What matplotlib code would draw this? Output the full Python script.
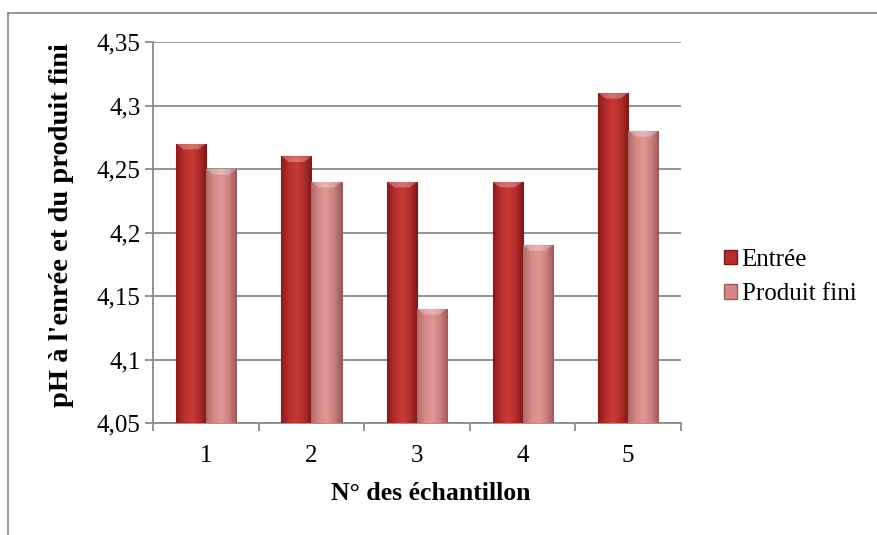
import numpy as np
import matplotlib
matplotlib.use("Agg")
import matplotlib.pyplot as plt
from matplotlib.colors import LinearSegmentedColormap
from matplotlib.lines import Line2D
from matplotlib.patches import Patch

categories = ["1", "2", "3", "4", "5"]
entree = [4.27, 4.26, 4.24, 4.24, 4.31]
produit_fini = [4.25, 4.24, 4.14, 4.19, 4.28]
series_names = ["Entrée", "Produit fini"]
yticks = [4.05, 4.1, 4.15, 4.2, 4.25, 4.3, 4.35]
ytick_labels = ["4,05", "4,1", "4,15", "4,2", "4,25", "4,3", "4,35"]

plt.rcParams['font.family'] = ['Liberation Serif', 'DejaVu Serif']

fig = plt.figure(figsize=(8.77, 5.35), dpi=100)
ax = fig.add_axes([0.1745, 0.2093, 0.602, 0.7122])

x = np.arange(len(categories))
w = 0.285
cmaps = [
    LinearSegmentedColormap.from_list("e", ["#8a1c1c", "#b52e2e", "#c83a36", "#b02c2c", "#7e1818"]),
    LinearSegmentedColormap.from_list("p", ["#b06a6a", "#d58886", "#e09896", "#cc8080", "#9c5a5a"]),
]
edgecols = ["#7a1a1a", "#946060"]
facecols = ["#b52e2e", "#d58886"]

grad = np.linspace(0, 1, 64).reshape(1, -1)
for i, (vals, off) in enumerate([(entree, -w / 2), (produit_fini, w / 2)]):
    bars = ax.bar(x + off, [v - 4.05 for v in vals], w, bottom=4.05,
                  color=facecols[i], edgecolor=edgecols[i], linewidth=0.8, zorder=3)
    for b in bars:
        bx, by = b.get_x(), b.get_y()
        bw, bh = b.get_width(), b.get_height()
        im = ax.imshow(grad, cmap=cmaps[i], aspect='auto',
                       extent=[bx, bx + bw, by, by + bh], zorder=3.5)
        im.set_clip_path(b)
        # top bevel highlight
        ax.fill([bx, bx + bw, bx + bw * 0.75, bx + bw * 0.25],
                [by + bh, by + bh, by + bh - 0.0045, by + bh - 0.0045],
                color="white", alpha=0.28, lw=0, zorder=3.6)

ax.set_xlim(-0.5, len(categories) - 0.5)
ax.set_ylim(4.05, 4.35)
ax.set_yticks(yticks)
ax.set_yticklabels(ytick_labels)
ax.set_xticks(x)
ax.set_xticklabels(categories)
ax.set_xticks(np.arange(-0.5, len(categories), 1), minor=True)
ax.tick_params(axis='x', which='major', length=0, pad=16, labelsize=18)
ax.tick_params(axis='x', which='minor', length=6, direction='out', color='#8c8c8c', width=1.3)
ax.tick_params(axis='y', length=6, direction='out', color='#8c8c8c', width=1.3,
               labelsize=18, pad=3)
ax.grid(axis='y', color='#8c8c8c', linewidth=1.3, zorder=0)
ax.set_axisbelow(True)
for s in ['top', 'right']:
    ax.spines[s].set_visible(False)
for s in ['left', 'bottom']:
    ax.spines[s].set_color('#8c8c8c')
    ax.spines[s].set_linewidth(1.3)

fig.text(431 / 877, 1 - 493 / 535, "N° des échantillon", fontsize=18.5,
         fontweight='bold', ha='center', va='center')
fig.text(62 / 877, 1 - 225 / 535, "pH à l'enrée et du produit fini", fontsize=20.5,
         fontweight='bold', ha='center', va='center', rotation=90)

handles = [Patch(facecolor=facecols[0], edgecolor=edgecols[0]),
           Patch(facecolor=facecols[1], edgecolor=edgecols[1])]
fig.legend(handles, series_names, loc='center left', bbox_to_anchor=(724 / 877, 0.482),
           frameon=False, fontsize=18, handlelength=0.5, handleheight=0.5,
           handletextpad=0.2, labelspacing=0.5, borderpad=0, borderaxespad=0)

# outer chart frame
fig.add_artist(Line2D([0.0095, 0.0095], [0.0, 0.976], color='#8c8c8c', lw=1.3))
fig.add_artist(Line2D([0.0095, 1.0], [0.976, 0.976], color='#8c8c8c', lw=1.3))

fig.savefig("out.png", dpi=100)
